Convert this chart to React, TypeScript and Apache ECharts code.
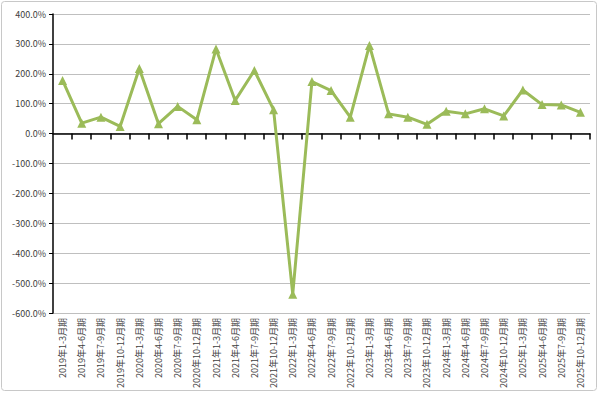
import React, { useEffect, useRef } from "react";
import * as echarts from "echarts";

const years = ["2019", "2020", "2021", "2022", "2023", "2024", "2025"];
const quarters = ["1-3月期", "4-6月期", "7-9月期", "10-12月期"];
const categories: string[] = [];
years.forEach((y) => quarters.forEach((q) => categories.push(`${y}年${q}`)));

const values = [
  178, 35, 55, 24,
  218, 33, 91, 46,
  283, 111, 211, 80,
  -537, 174, 144, 55,
  295, 66, 55, 31,
  75, 66, 83, 59,
  146, 97, 96, 71,
];

const yMin = -600;
const yMax = 400;
const yInterval = 100;

export default function App() {
  const ref = useRef<HTMLDivElement>(null);
  useEffect(() => {
    if (!ref.current) return;
    const chart = echarts.init(ref.current, undefined, { renderer: "svg" });
    const font = "'Noto Sans CJK JP', 'DejaVu Sans', sans-serif";
    chart.setOption({
      animation: false,
      backgroundColor: "#ffffff",
      graphic: [
        {
          type: "rect",
          shape: { x: 1.5, y: 1.5, width: 595, height: 389, r: 3 },
          style: { fill: "none", stroke: "#c8c8c8", lineWidth: 1 },
          silent: true,
        },
      ],
      grid: { left: 53, right: 10, top: 14, bottom: 80 },
      xAxis: [
        {
          type: "category",
          data: categories,
          boundaryGap: true,
          axisLine: { show: true, onZero: true, lineStyle: { color: "#000", width: 1.5 } },
          axisTick: { show: false },
          axisLabel: { show: false },
          splitLine: { show: false },
        },
        {
          type: "category",
          data: categories,
          position: "bottom",
          boundaryGap: true,
          axisLine: { show: false, onZero: false },
          axisTick: { show: false },
          axisLabel: {
            rotate: 90,
            interval: 0,
            fontSize: 9,
            color: "#404040",
            fontFamily: font,
            margin: 5,
          },
        },
      ],
      yAxis: {
        type: "value",
        min: yMin,
        max: yMax,
        interval: yInterval,
        axisLine: { show: true, lineStyle: { color: "#000", width: 1.5 } },
        axisTick: { show: true, length: 4, lineStyle: { color: "#000" } },
        axisLabel: {
          formatter: (v: number) => v.toFixed(1) + "%",
          fontSize: 9,
          color: "#404040",
          fontFamily: font,
          margin: 7,
        },
        splitLine: { lineStyle: { color: "#bfbfbf", width: 1 } },
      },
      series: [
        {
          type: "custom",
          xAxisIndex: 0,
          silent: true,
          clip: false,
          z: 4,
          data: categories.map((_, i) => [i, 0]),
          encode: { x: 0, y: 1 },
          renderItem: (params: any, api: any) => {
            const p = api.coord([api.value(0), 0]);
            const bw = api.size([1, 0])[0];
            const x = Math.round(p[0] + bw / 2);
            return {
              type: "line",
              shape: { x1: x, y1: p[1], x2: x, y2: p[1] + 6 },
              style: { stroke: "#000000", lineWidth: 1.5 },
            };
          },
        },
        {
          type: "line",
          data: values,
          xAxisIndex: 0,
          symbol: "triangle",
          symbolSize: 9,
          z: 3,
          lineStyle: { color: "#9BBB59", width: 3 },
          itemStyle: { color: "#9BBB59" },
        },
      ],
    });
    return () => chart.dispose();
  }, []);
  return (
    <div
      ref={ref}
      style={{ position: "absolute", left: 0, top: 0, width: 600, height: 393 }}
    />
  );
}
